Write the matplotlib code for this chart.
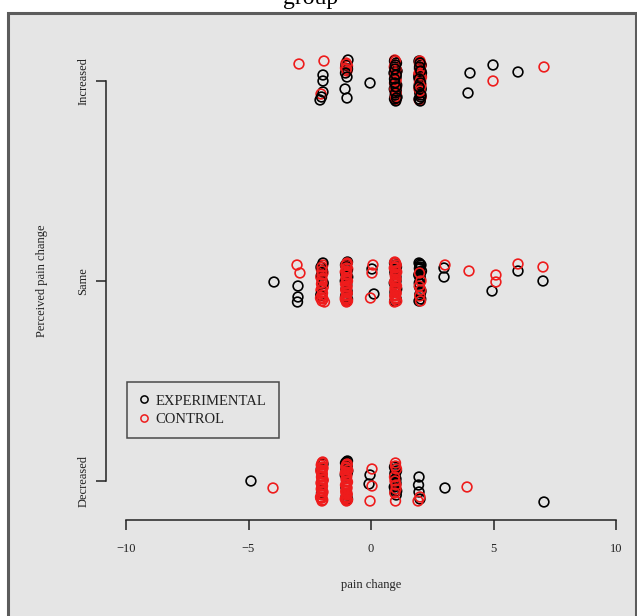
import matplotlib
matplotlib.use("Agg")
import matplotlib.pyplot as plt
from matplotlib.lines import Line2D
from matplotlib.patches import Rectangle

plt.rcParams["font.family"] = ["Liberation Serif", "DejaVu Serif"]

categories = ["Decreased", "Same", "Increased"]
x_ticks = [-10, -5, 0, 5, 10]
exp_color = "black"
ctl_color = "#ee1c1c"

# EXPERIMENTAL (schwarz): pain change mit jitter, y = Kategorie (1..3) mit jitter
exp_x = [
    -1.96, -1.96, -1.96, -2.08, -2.02,
    -0.94, -1.02, -0.96, -1.04, -0.98, -1.06, -0.98,
    -0.04,
    0.96, 1.04, 0.98, 1.06, 0.94, 1.02, 0.97, 1.05, 0.95, 1.03, 0.99, 1.06, 0.96, 1.01,
    1.0, 0.98, 1.03, 0.97, 1.02, 1.0, 0.96, 1.04,
    1.96, 2.04, 1.98, 2.06, 1.95, 2.02, 1.97, 2.05, 1.99, 2.03, 1.96, 2.01,
    2.0, 1.98, 2.03, 1.97, 2.02, 2.0, 1.96, 2.04,
    4.04, 3.96, 4.98, 6.0,
    -3.96, -2.98, -2.98, -3.0,
    -1.96, -2.04, -1.98, -2.02, -1.95, -2.05,
    -0.96, -1.04, -0.98, -1.03, -0.95, -1.05, -0.99, -1.02, -0.97, -1.04, -1.0, -0.96,
    -1.0, -0.98, -1.02, -1.0, -0.98, -1.02,
    0.04, 0.12,
    0.96, 1.04, 0.98, 1.02, 0.95, 1.05, 0.99, 1.03, 0.97, 1.01,
    1.0, 0.98, 1.02, 1.0, 0.98,
    1.96, 2.04, 1.98, 2.06, 1.95, 2.02, 1.97, 2.04, 1.99, 2.03, 1.96, 2.01,
    2.0, 1.98, 2.02, 2.0, 1.98, 2.02,
    2.98, 2.98, 4.94, 6.0, 7.02,
    -4.9,
    -1.96, -2.03, -1.98, -2.02,
    -0.96, -1.04, -0.98, -1.02, -0.95, -1.05, -0.99, -1.03, -0.97, -1.02, -1.0, -0.96,
    -1.0, -0.98, -1.02, -1.0,
    -0.04, -0.08,
    0.96, 1.04, 0.98, 1.02, 0.95, 1.05, 0.99, 1.03,
    1.0, 0.98, 1.02, 1.0, 0.98,
    1.96, 1.94, 1.96, 2.0,
    3.02, 7.06,
]
exp_y = [
    3.03, 3.00, 2.945, 2.905, 2.92,
    3.105, 3.08, 3.06, 3.04, 3.02, 2.96, 2.915,
    2.99,
    3.10, 3.09, 3.07, 3.05, 3.04, 3.02, 3.0, 2.98, 2.96, 2.95, 2.93, 2.92, 2.91, 2.90,
    3.08, 3.06, 3.03, 2.99, 2.97, 2.94, 3.01, 2.915,
    3.10, 3.08, 3.06, 3.04, 3.02, 3.00, 2.98, 2.96, 2.94, 2.92, 2.91, 2.90,
    3.09, 3.07, 3.05, 3.01, 2.99, 2.95, 2.97, 2.93,
    3.04, 2.94, 3.08, 3.045,
    1.995, 1.975, 1.92, 1.895,
    2.09, 2.07, 2.05, 2.03, 1.99, 1.93,
    2.095, 2.08, 2.06, 2.04, 2.02, 2.0, 1.98, 1.96, 1.94, 1.92, 1.90, 1.91,
    2.07, 2.05, 2.03, 1.99, 1.95, 1.93,
    2.06, 1.935,
    2.09, 2.07, 2.05, 2.02, 1.99, 1.96, 1.93, 1.91, 1.90, 2.08,
    2.06, 2.04, 2.0, 1.97, 1.945,
    2.09, 2.08, 2.06, 2.05, 2.03, 2.01, 1.99, 1.95, 1.93, 1.91, 1.90, 2.07,
    2.085, 2.065, 2.04, 2.02, 1.97, 1.94,
    2.065, 2.02, 1.95, 2.05, 2.0,
    1.0,
    1.085, 1.06, 1.00, 0.94,
    1.10, 1.09, 1.08, 1.065, 1.05, 1.03, 0.93, 0.97, 1.04, 0.92, 0.905, 0.91,
    1.095, 1.075, 1.055, 1.04,
    1.03, 0.985,
    1.07, 1.05, 1.03, 0.99, 0.97, 0.95, 0.96, 0.93,
    1.06, 1.04, 1.01, 0.98, 0.945,
    1.02, 0.98, 0.945, 0.91,
    0.965, 0.895,
]

# CONTROL (rot)
ctl_x = [
    -2.94, -1.92, -2.04,
    -1.02, -0.96, -1.04, -0.98, -1.0, -1.0,
    0.97, 1.03, 0.95, 1.05, 0.99, 1.02, 0.96, 1.04, 0.98, 1.03, 0.97, 1.01,
    1.0, 0.98, 1.02, 1.0, 0.98, 1.02, 1.0, 0.98, 1.02, 1.0,
    1.97, 2.05, 1.99, 2.03, 1.95, 2.06, 1.98, 2.04, 1.96, 2.02, 2.05, 1.97,
    2.0, 1.98, 2.02, 2.0, 1.98, 2.02, 2.0, 1.98, 2.02, 2.0,
    4.98, 7.06,
    -3.02, -2.9,
    -1.97, -2.03, -1.96, -2.05, -1.99, -2.02, -1.95, -2.04, -1.98, -2.03, -1.96, -2.0, -1.9, -2.06,
    -2.0, -2.0, -2.0, -2.0, -2.0, -2.0, -2.0, -2.0,
    -0.97, -1.03, -0.95, -1.05, -0.99, -1.02, -0.96, -1.04, -0.98, -1.03, -0.97, -1.01, -1.05, -0.96, -1.0, -1.02,
    -1.0, -1.0, -1.0, -1.0, -1.0, -1.0, -1.0, -1.0, -1.0, -1.0, -1.0,
    0.08, 0.04, -0.02,
    0.97, 1.03, 0.95, 1.05, 0.99, 1.02, 0.96, 1.04, 0.98, 1.03, 0.97, 1.01, 1.05, 0.96,
    1.0, 1.0, 1.0, 1.0, 1.0, 1.0, 1.0, 1.0, 1.0, 1.0, 1.0,
    1.98, 2.04, 1.97, 2.03, 1.99, 2.02,
    3.02, 4.0, 5.1, 5.1, 6.0, 7.02,
    -4.0,
    -1.97, -2.03, -1.96, -2.05, -1.99, -2.02, -1.95, -2.04, -1.98, -2.03, -1.96, -2.01, -2.05, -1.97, -2.0, -2.06,
    -2.0, -2.0, -2.0, -2.0, -2.0, -2.0, -2.0, -2.0, -2.0, -2.0, -2.0, -2.0,
    -0.97, -1.03, -0.95, -1.05, -0.99, -1.02, -0.96, -1.04, -0.98, -1.03, -0.97, -1.01, -1.05, -0.96, -1.0, -1.02,
    -1.0, -1.0, -1.0, -1.0, -1.0, -1.0, -1.0, -1.0, -1.0, -1.0, -1.0,
    0.04, 0.04, -0.04,
    1.0, 1.04, 0.96, 1.02, 0.97, 1.0, 1.0, 1.02, 0.98,
    2.0, 1.92,
    3.92,
]
ctl_y = [
    3.085, 3.10, 2.935,
    3.09, 3.075, 3.065, 3.05, 3.085, 3.06,
    3.105, 3.09, 3.07, 3.05, 3.03, 3.01, 2.99, 2.97, 2.95, 2.93, 2.915, 2.905,
    3.1, 3.08, 3.06, 3.04, 3.02, 3.0, 2.98, 2.96, 2.94, 2.92,
    3.095, 3.08, 3.065, 3.05, 3.035, 3.02, 3.0, 2.98, 2.96, 2.94, 2.92, 2.905,
    3.1, 3.085, 3.07, 3.055, 3.04, 3.03, 3.01, 2.99, 2.97, 2.95,
    3.0, 3.07,
    2.08, 2.04,
    2.08, 2.06, 2.04, 2.02, 2.0, 1.985, 1.97, 1.955, 1.94, 1.925, 1.91, 1.90, 1.895, 1.915,
    2.07, 2.05, 2.03, 2.01, 1.99, 1.96, 1.93, 1.915,
    2.09, 2.075, 2.06, 2.045, 2.03, 2.015, 2.0, 1.985, 1.97, 1.955, 1.94, 1.925, 1.91, 1.90, 1.895, 1.905,
    2.085, 2.065, 2.05, 2.035, 2.01, 1.99, 1.975, 1.96, 1.945, 1.93, 1.915,
    2.08, 2.04, 1.915,
    2.095, 2.08, 2.065, 2.045, 2.03, 2.01, 1.995, 1.975, 1.96, 1.94, 1.925, 1.91, 1.90, 1.895,
    2.09, 2.07, 2.05, 2.035, 2.02, 2.0, 1.985, 1.965, 1.95, 1.93, 1.915,
    2.04, 2.0, 1.975, 1.955, 1.925, 1.90,
    2.08, 2.05, 2.03, 1.995, 2.085, 2.07,
    0.965,
    1.095, 1.08, 1.065, 1.05, 1.035, 1.02, 1.005, 0.99, 0.975, 0.96, 0.945, 0.93, 0.915, 0.905, 0.9, 0.92,
    1.09, 1.07, 1.055, 1.04, 1.025, 1.01, 0.995, 0.98, 0.965, 0.95, 0.935, 0.915,
    1.085, 1.07, 1.055, 1.04, 1.025, 1.01, 0.995, 0.98, 0.965, 0.95, 0.935, 0.92, 0.91, 0.905, 0.90, 0.94,
    1.08, 1.065, 1.045, 1.03, 1.015, 1.0, 0.985, 0.97, 0.95, 0.93, 0.915,
    1.06, 0.975, 0.9,
    1.09, 1.06, 1.02, 0.98, 0.94, 0.9, 1.075, 0.96, 1.0,
    0.92, 0.9,
    0.97,
]

# Punkte beider Gruppen abwechselnd zeichnen, damit sich die Farben mischen
xs, ys, cols = [], [], []
for i in range(max(len(exp_x), len(ctl_x))):
    if i < len(exp_x):
        xs.append(exp_x[i])
        ys.append(exp_y[i])
        cols.append(exp_color)
    if i < len(ctl_x):
        xs.append(ctl_x[i])
        ys.append(ctl_y[i])
        cols.append(ctl_color)

W, H = 637, 616
fig = plt.figure(figsize=(W / 100, H / 100), dpi=100)
fig.patch.set_facecolor("white")

# grauer Hintergrund mit dunklem Rand (oben/links)
fig.patches.append(Rectangle((8 / W, -0.01), (W - 9) / W, (H - 13) / H + 0.01,
                             transform=fig.transFigure, facecolor="#e5e5e5",
                             edgecolor="#5c5c5c", linewidth=2.2, zorder=-5))

fig.text(311 / W, 1 - 4 / H, "group", ha="center", va="baseline", fontsize=17)

ax = fig.add_axes([106.4 / W, 96 / H, 529.2 / W, 478 / H])
ax.set_facecolor("none")
ax.set_zorder(2)

ax.scatter(xs, ys, s=49, facecolors="none", edgecolors=cols, linewidths=1.2)

ax.set_xlim(-10.8, 10.8)
ax.set_ylim(0.805, 3.195)
ax.set_xticks(x_ticks)
ax.set_yticks([1, 2, 3])
ax.set_yticklabels(categories, rotation=90, va="center")

for s in ["top", "right"]:
    ax.spines[s].set_visible(False)
ax.spines["bottom"].set_bounds(-10, 10)
ax.spines["left"].set_bounds(1, 3)
for s in ["bottom", "left"]:
    ax.spines[s].set_linewidth(1.1)
    ax.spines[s].set_color("#222222")
ax.tick_params(axis="both", direction="out", length=7.2, width=1.1, color="#222222",
               labelsize=9, labelcolor="#222222")
ax.tick_params(axis="x", pad=9)
ax.tick_params(axis="y", pad=5)

fig.text(371 / W, 1 - 585 / H, "pain change", ha="center", va="center", fontsize=9, color="#222222")
fig.text(42 / W, 1 - 281 / H, "Perceived pain change", ha="center", va="center",
         rotation=90, fontsize=9, color="#222222")

handles = [
    Line2D([], [], ls="none", marker="o", mfc="none", mec=exp_color, ms=5.2, mew=1.1),
    Line2D([], [], ls="none", marker="o", mfc="none", mec=ctl_color, ms=5.2, mew=1.1),
]
leg = ax.legend(handles, ["EXPERIMENTAL", "CONTROL"],
                loc="upper left", bbox_to_anchor=(127 / W, 1 - 382 / H),
                bbox_transform=fig.transFigure, fontsize=10.5, frameon=True, fancybox=False,
                handlelength=0.6, handletextpad=0.5, borderpad=0.85, labelspacing=0.35,
                borderaxespad=0)
leg.get_frame().set_edgecolor("#222222")
leg.get_frame().set_facecolor("none")
leg.get_frame().set_linewidth(1.1)
for t in leg.get_texts():
    t.set_color("#222222")

fig.savefig("out.png", dpi=100)
